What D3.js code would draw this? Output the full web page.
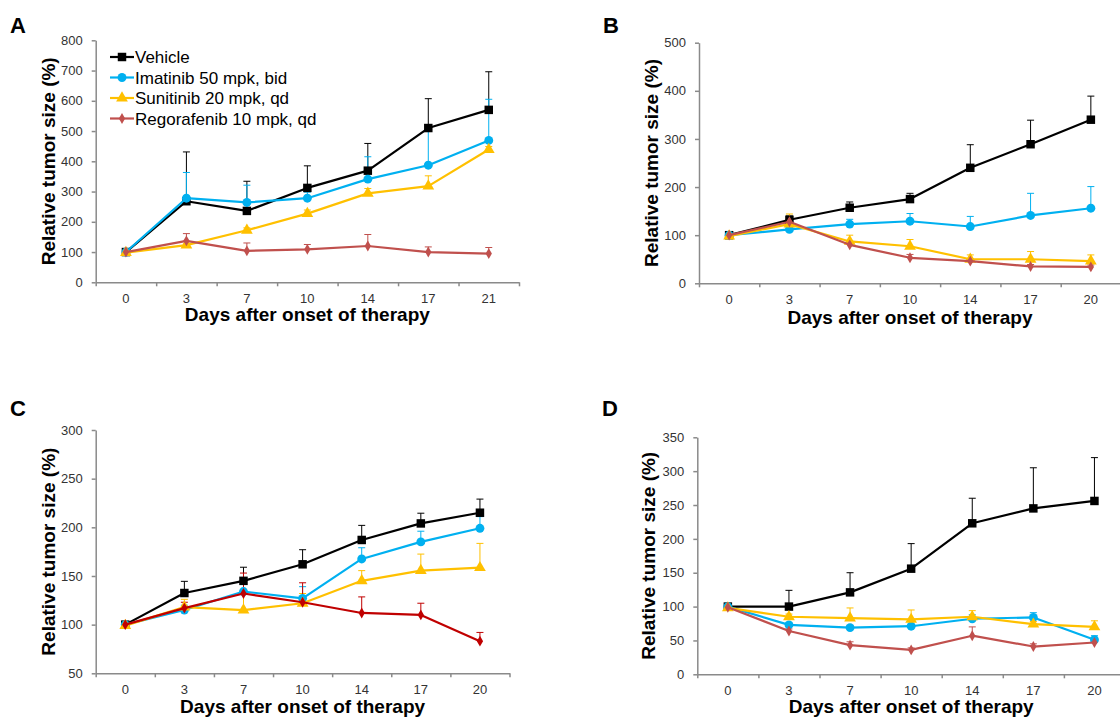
<!DOCTYPE html>
<html><head><meta charset="utf-8">
<script src="https://cdn.jsdelivr.net/npm/d3@7"></script>
<style>
html,body{margin:0;padding:0;background:#fff;}
svg{display:block;font-family:"Liberation Sans",Arial,sans-serif;}
</style></head>
<body>
<svg id="chart" width="1120" height="719"></svg>
<script>
// ---------------- DATA ----------------
const seriesNames = ["Vehicle", "Imatinib 50 mpk, bid", "Sunitinib 20 mpk, qd", "Regorafenib 10 mpk, qd"];
const daysA = ["0", "3", "7", "10", "14", "17", "21"];
const daysBCD = ["0", "3", "7", "10", "14", "17", "20"];

const yTicksA = [0, 100, 200, 300, 400, 500, 600, 700, 800];
const yTicksB = [0, 100, 200, 300, 400, 500];
const yTicksC = [50, 100, 150, 200, 250, 300];
const yTicksD = [0, 50, 100, 150, 200, 250, 300, 350];

// Panel A
const vehA = [100, 268, 236, 312, 369, 510, 570];
const vehAErr = [0, 163, 98, 73, 90, 97, 126];
const imaA = [100, 278, 264, 278, 341, 387, 469];
const imaAErr = [0, 85, 57, 20, 74, 113, 136];
const sunA = [98, 123, 172, 227, 294, 318, 439];
const sunAErr = [0, 6, 8, 12, 16, 34, 10];
const regA = [100, 137, 104, 109, 120, 100, 95];
const regAErr = [0, 24, 26, 16, 38, 17, 20];

// Panel B
const vehB = [100, 132, 157, 175, 240, 289, 340];
const vehBErr = [0, 8, 12, 12, 48, 50, 49];
const imaB = [100, 112, 123, 129, 118, 141, 156];
const imaBErr = [0, 5, 10, 16, 21, 46, 45];
const sunB = [98, 123, 87, 77, 50, 50, 46];
const sunBErr = [0, 21, 13, 14, 9, 16, 13];
const regB = [100, 128, 80, 53, 46, 35, 34];
const regBErr = [0, 5, 4, 7, 5, 4, 4];

// Panel C
const vehC = [100, 132.5, 145, 162, 187, 204, 215];
const vehCErr = [0, 12, 14, 15, 15, 10.5, 14];
const imaC = [100, 115, 134, 127, 167.5, 185, 199];
const imaCErr = [0, 5, 8, 12, 11.5, 11, 12];
const sunC = [99, 118, 115, 122, 145, 155.5, 158.5];
const sunCErr = [0, 8, 18, 10, 10.5, 17, 25];
const regC = [100, 117, 132, 123, 112, 110, 83];
const regCErr = [0, 6, 21, 20, 16.5, 12, 9];

// Panel D
const vehD = [100, 100, 121, 156, 223, 245, 256];
const vehDErr = [0, 24, 29, 37, 37, 60, 64];
const imaD = [100, 73, 69, 71, 82, 84, 51];
const imaDErr = [0, 3, 3, 3, 6, 7, 6];
const sunD = [98, 85, 83, 81, 85, 74, 70];
const sunDErr = [0, 4, 15, 14, 9, 4, 9];
const regD = [99, 64, 43, 36, 57, 41, 47];
const regDErr = [0, 3, 5, 3, 13, 4, 3];

// ---------------- STYLE / LAYOUT ----------------
const colors = ["#000000", "#00b0f0", "#ffc000", "#c0504d"];
const symbols = [d3.symbolSquare, d3.symbolCircle, d3.symbolTriangle, d3.symbolDiamond];
const symSizes = [72, 62, 60, 34];
const axisColor = "#8a8a8a";
const FONT = '"Liberation Sans", Arial, sans-serif';

const panels = [
  {letter: "A", lx: 10, ly: 33, x0: 95.7, x1: 519, y0: 282.3, y1: 40.3, dom: [0, 800], yTicks: yTicksA, cats: daysA,
   ytx: 48, xtb: 321, data: [[vehA, vehAErr], [imaA, imaAErr], [sunA, sunAErr], [regA, regAErr]], regColor: "#c0504d", legend: true},
  {letter: "B", lx: 603, ly: 33, x0: 699, x1: 1121, y0: 283.3, y1: 42.7, dom: [0, 500], yTicks: yTicksB, cats: daysBCD,
   ytx: 651, xtb: 324, data: [[vehB, vehBErr], [imaB, imaBErr], [sunB, sunBErr], [regB, regBErr]], regColor: "#c0504d"},
  {letter: "C", lx: 10, ly: 416, x0: 95.7, x1: 509.5, y0: 673.3, y1: 430, dom: [50, 300], yTicks: yTicksC, cats: daysBCD,
   ytx: 48, xtb: 713, data: [[vehC, vehCErr], [imaC, imaCErr], [sunC, sunCErr], [regC, regCErr]], regColor: "#c00000"},
  {letter: "D", lx: 602, ly: 416, x0: 697.3, x1: 1125, y0: 674.3, y1: 437.3, dom: [0, 350], yTicks: yTicksD, cats: daysBCD,
   ytx: 648, xtb: 713, data: [[vehD, vehDErr], [imaD, imaDErr], [sunD, sunDErr], [regD, regDErr]], regColor: "#c0504d"}
];

const svg = d3.select("#chart");
svg.append("rect").attr("width", 1120).attr("height", 719).attr("fill", "#fff");

panels.forEach(p => {
  const g = svg.append("g");
  const x = d3.scaleBand().domain(p.cats).range([p.x0, p.x1]).padding(0);
  const xb = d3.scaleLinear().domain([0, p.cats.length]).range([p.x0, p.x1]);
  const y = d3.scaleLinear().domain(p.dom).range([p.y0, p.y1]);
  const cx = d => x(d) + x.bandwidth() / 2;
  const cols = [colors[0], colors[1], colors[2], p.regColor];

  // panel letter
  g.append("text").attr("x", p.lx).attr("y", p.ly).text(p.letter)
    .attr("font-family", FONT).attr("font-weight", "bold").attr("font-size", 22).attr("fill", "#000");

  // y axis
  const ya = g.append("g").attr("transform", `translate(${p.x0},0)`)
    .call(d3.axisLeft(y).tickValues(p.yTicks).tickSize(4).tickSizeOuter(0).tickPadding(9).tickFormat(d3.format("d")));
  // x axis labels
  const xa = g.append("g").attr("transform", `translate(0,${p.y0})`)
    .call(d3.axisBottom(x).tickSize(0).tickPadding(11));
  // x boundary ticks
  const xt = g.append("g").attr("transform", `translate(0,${p.y0})`)
    .call(d3.axisBottom(xb).tickValues(d3.range(p.cats.length + 1)).tickSize(4).tickSizeOuter(0).tickFormat(""));
  [ya, xa, xt].forEach(a => {
    a.selectAll("path.domain").attr("stroke", axisColor).attr("stroke-width", 1.5);
    a.selectAll(".tick line").attr("stroke", axisColor).attr("stroke-width", 1.5);
    a.selectAll("text").attr("font-family", FONT).attr("font-size", 13).attr("fill", "#333");
  });
  xa.select("path.domain").remove();

  // axis titles
  g.append("text").attr("transform", `translate(${p.ytx},${(p.y0 + p.y1) / 2}) rotate(-90)`)
    .attr("text-anchor", "middle").attr("dy", "0.35em")
    .attr("font-family", FONT).attr("font-weight", "bold").attr("font-size", 19).attr("fill", "#000")
    .text("Relative tumor size (%)");
  g.append("text").attr("x", (p.x0 + p.x1) / 2).attr("y", p.xtb).attr("text-anchor", "middle")
    .attr("font-family", FONT).attr("font-weight", "bold").attr("font-size", 19).attr("fill", "#000")
    .text("Days after onset of therapy");

  // error bars
  p.data.forEach((s, si) => {
    const [vals, errs] = s;
    const eg = g.append("g").attr("stroke", cols[si]).attr("stroke-width", 1);
    vals.forEach((v, i) => {
      if (!errs[i]) return;
      const xx = cx(p.cats[i]);
      eg.append("line").attr("x1", xx).attr("x2", xx).attr("y1", y(v)).attr("y2", y(v + errs[i]));
      eg.append("line").attr("x1", xx - 3.5).attr("x2", xx + 3.5).attr("y1", y(v + errs[i])).attr("y2", y(v + errs[i]));
    });
  });

  // lines + markers
  p.data.forEach((s, si) => {
    const vals = s[0];
    const line = d3.line().x((v, i) => cx(p.cats[i])).y(v => y(v));
    g.append("path").attr("d", line(vals)).attr("fill", "none").attr("stroke", cols[si]).attr("stroke-width", 2.2)
      .attr("stroke-linejoin", "round");
    const sym = d3.symbol().type(symbols[si]).size(symSizes[si]);
    g.selectAll(null).data(vals).enter().append("path")
      .attr("d", sym).attr("transform", (v, i) => `translate(${cx(p.cats[i])},${y(v)})`)
      .attr("fill", cols[si]);
  });

  // legend
  if (p.legend) {
    const rows = [57, 77.5, 98, 118.5];
    seriesNames.forEach((name, si) => {
      const lg = g.append("g");
      lg.append("line").attr("x1", 110).attr("x2", 134).attr("y1", rows[si]).attr("y2", rows[si])
        .attr("stroke", cols[si]).attr("stroke-width", 2.2);
      lg.append("path").attr("d", d3.symbol().type(symbols[si]).size(symSizes[si])())
        .attr("transform", `translate(122,${rows[si]})`).attr("fill", cols[si]);
      lg.append("text").attr("x", 135).attr("y", rows[si] + 6).text(name)
        .attr("font-family", FONT).attr("font-size", 17).attr("fill", "#000");
    });
  }
});
</script>
</body></html>
